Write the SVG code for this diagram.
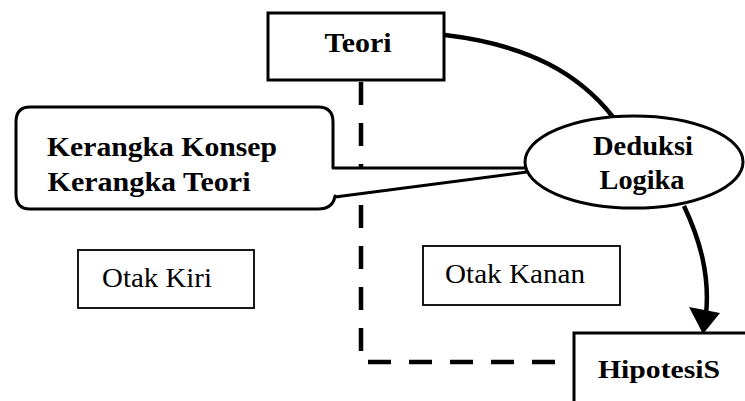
<svg xmlns="http://www.w3.org/2000/svg" width="745" height="401" viewBox="0 0 745 401">
<style>
.box{fill:#fff;stroke:#000;stroke-width:3}
.thin{fill:#fff;stroke:#000;stroke-width:1.8}
.b{font-family:"Liberation Serif","Times New Roman",serif;font-weight:bold;fill:#000;text-anchor:middle}
.r{font-family:"Liberation Serif","Times New Roman",serif;fill:#000;text-anchor:middle}
.con{fill:none;stroke:#000;stroke-width:4.5}
.dash{fill:none;stroke:#000;stroke-width:4.5;stroke-dasharray:23 18}
</style>
<rect width="745" height="401" fill="#fff"/>
<g id="connectors">
<path class="con" d="M445,35 C530,45 580,75 613,117"/>
<path class="con" d="M684,206 C700,240 710,275 706,315"/>
<polygon points="689,307 720,313 703,334" fill="#000"/>
<path class="dash" d="M361,82 V362 H573"/>
</g>
<g id="kerangka">
<path d="M30,107 H318 Q333,107 333,122 V168 H527 L527,172 L335,197 V196 Q333,209 318,209 H30 Q16,209 16,194 V122 Q16,107 30,107 Z" fill="#fff" stroke="#000" stroke-width="3" stroke-linejoin="round"/>
<text class="b" x="162" y="156" font-size="28" textLength="230" lengthAdjust="spacingAndGlyphs">Kerangka Konsep</text>
<text class="b" x="149" y="191" font-size="28" textLength="203" lengthAdjust="spacingAndGlyphs">Kerangka Teori</text>
</g>
<g id="teori">
<rect class="box" x="268" y="13" width="176" height="67"/>
<text class="b" x="358" y="52" font-size="28" textLength="67" lengthAdjust="spacingAndGlyphs">Teori</text>
</g>
<g id="deduksi">
<ellipse class="box" cx="634" cy="162" rx="109" ry="46"/>
<text class="b" x="643" y="155" font-size="27" textLength="100" lengthAdjust="spacingAndGlyphs">Deduksi</text>
<text class="b" x="642" y="189" font-size="27" textLength="85" lengthAdjust="spacingAndGlyphs">Logika</text>
</g>
<g id="otakkiri">
<rect class="thin" x="78" y="250" width="176" height="58"/>
<text class="r" x="157" y="287" font-size="27" textLength="110" lengthAdjust="spacingAndGlyphs">Otak Kiri</text>
</g>
<g id="otakkanan">
<rect class="thin" x="423" y="246" width="197" height="59"/>
<text class="r" x="515" y="283" font-size="27" textLength="140" lengthAdjust="spacingAndGlyphs">Otak Kanan</text>
</g>
<g id="hipotesis">
<rect class="box" x="574" y="333" width="180" height="80"/>
<text class="b" x="659" y="378" font-size="25" textLength="122" lengthAdjust="spacingAndGlyphs">HipotesiS</text>
</g>
</svg>
